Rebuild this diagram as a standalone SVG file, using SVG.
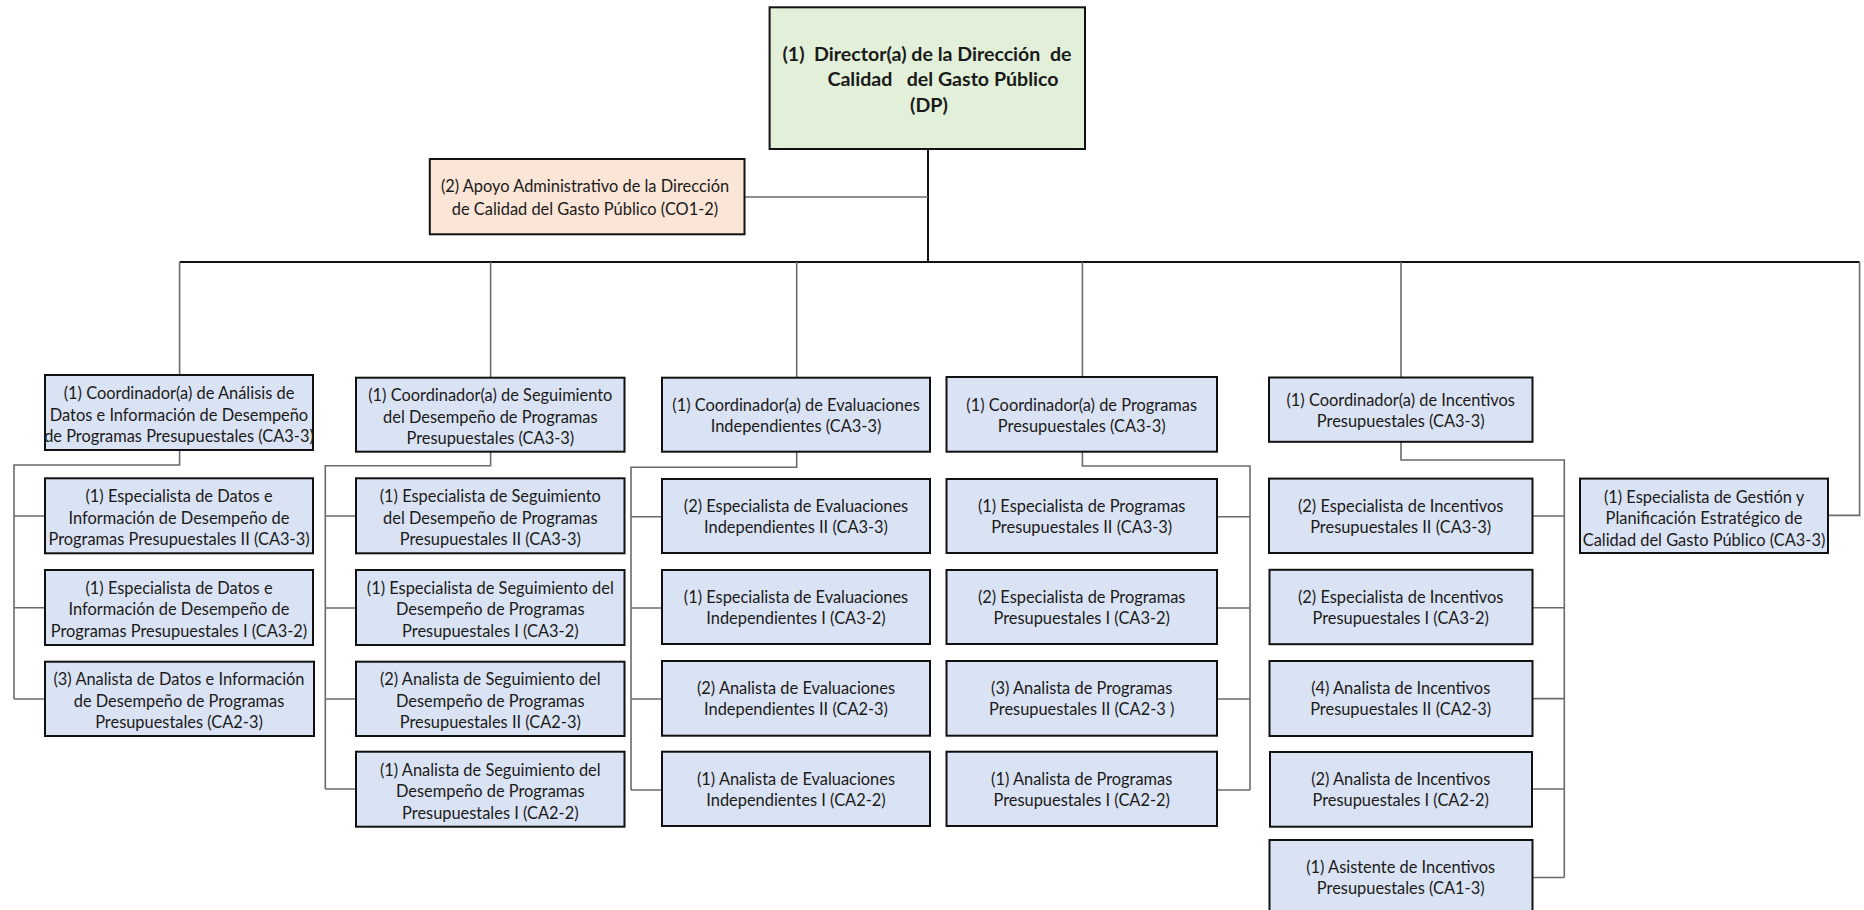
<svg xmlns="http://www.w3.org/2000/svg" width="1864" height="910" viewBox="0 0 1864 910">
<style>
.b{fill:#DAE3F3;stroke:#111;stroke-width:2}
.g{fill:#E2F0D9;stroke:#111;stroke-width:2}
.p{fill:#FBE5D6;stroke:#111;stroke-width:2}
text{font-family:Lato,"Open Sans","Liberation Sans",sans-serif;font-size:16.4px;fill:#1a1a1a;text-anchor:middle}
.hd{font-size:19.6px;font-weight:bold;white-space:pre}
.ln{fill:none;stroke:#6b6b6b;stroke-width:1.6}
.dk{fill:none;stroke:#111;stroke-width:2}
</style>
<rect width="1864" height="910" fill="#fff"/>
<g id="connectors">
<path class="dk" d="M928 149V262"/>
<path class="ln" d="M744.5 197H928"/>
<path class="dk" d="M179.6 262H1859.6"/>
<path class="ln" d="M179.6 262V375M490.6 262V378M796.7 262V378M1082.4 262V377M1401 262V377.5M1859.6 262V515.4H1828"/>
<path class="ln" d="M179.6 450V465H14V699M14 516H45M14 607.7H45M14 699H45"/>
<path class="ln" d="M490.6 452V465.7H325.3V789M325.3 516H356M325.3 608H356M325.3 699H356M325.3 789H356"/>
<path class="ln" d="M796.7 452V467.3H631V790M631 516.7H662M631 608H662M631 699H662M631 790H662"/>
<path class="ln" d="M1082.4 452V466H1250V790M1217 516.7H1250M1217 608H1250M1217 699H1250M1217 790H1250"/>
<path class="ln" d="M1401 442V460H1564.3V877.5M1532.5 516H1564.3M1532.5 607.7H1564.3M1532.5 698.6H1564.3M1532.5 789H1564.3M1532.5 877.5H1564.3"/>
</g>
<g id="director"><rect class="g" x="769.6" y="7.3" width="315.4" height="141.7"/>
<text class="hd" x="927" y="60.5" xml:space="preserve">(1)  Director(a) de la Dirección  de</text>
<text class="hd" x="943" y="86" xml:space="preserve">Calidad   del Gasto Público</text>
<text class="hd" x="929" y="111.5">(DP)</text></g>
<g id="apoyo"><rect class="p" x="429.8" y="159" width="314.7" height="75.3"/>
<text x="585" y="192">(2) Apoyo Administrativo de la Dirección</text>
<text x="585" y="215">de Calidad del Gasto Público (CO1-2)</text></g>

<g id="c1"><rect class="b" x="45" y="375" width="268" height="75"/>
<text x="179" y="399">(1) Coordinador(a) de Análisis de</text>
<text x="179" y="420.5">Datos e Información de Desempeño</text>
<text x="179" y="442">de Programas Presupuestales (CA3-3)</text></g>
<g id="c1a"><rect class="b" x="45" y="478.3" width="268" height="75"/>
<text x="179" y="502">(1) Especialista de Datos e</text>
<text x="179" y="523.5">Información de Desempeño de</text>
<text x="179" y="545">Programas Presupuestales II (CA3-3)</text></g>
<g id="c1b"><rect class="b" x="45" y="570" width="268" height="75"/>
<text x="179" y="593.7">(1) Especialista de Datos e</text>
<text x="179" y="615.2">Información de Desempeño de</text>
<text x="179" y="636.7">Programas Presupuestales I (CA3-2)</text></g>
<g id="c1c"><rect class="b" x="45" y="661.7" width="269" height="74.3"/>
<text x="179" y="685">(3) Analista de Datos e Información</text>
<text x="179" y="706.5">de Desempeño de Programas</text>
<text x="179" y="728">Presupuestales (CA2-3)</text></g>

<g id="c2"><rect class="b" x="356" y="377.7" width="268.5" height="74"/>
<text x="490.3" y="401">(1) Coordinador(a) de Seguimiento</text>
<text x="490.3" y="422.5">del Desempeño de Programas</text>
<text x="490.3" y="444">Presupuestales (CA3-3)</text></g>
<g id="c2a"><rect class="b" x="356" y="478.3" width="268.5" height="75"/>
<text x="490.3" y="502">(1) Especialista de Seguimiento</text>
<text x="490.3" y="523.5">del Desempeño de Programas</text>
<text x="490.3" y="545">Presupuestales II (CA3-3)</text></g>
<g id="c2b"><rect class="b" x="356" y="570" width="268.5" height="75"/>
<text x="490.3" y="593.7">(1) Especialista de Seguimiento del</text>
<text x="490.3" y="615.2">Desempeño de Programas</text>
<text x="490.3" y="636.7">Presupuestales I (CA3-2)</text></g>
<g id="c2c"><rect class="b" x="356" y="661.7" width="268.5" height="74.3"/>
<text x="490.3" y="685">(2) Analista de Seguimiento del</text>
<text x="490.3" y="706.5">Desempeño de Programas</text>
<text x="490.3" y="728">Presupuestales II (CA2-3)</text></g>
<g id="c2d"><rect class="b" x="356" y="751.7" width="268.5" height="75"/>
<text x="490.3" y="775.5">(1) Analista de Seguimiento del</text>
<text x="490.3" y="797">Desempeño de Programas</text>
<text x="490.3" y="818.5">Presupuestales I (CA2-2)</text></g>

<g id="c3"><rect class="b" x="662" y="377.7" width="268" height="74"/>
<text x="796" y="411">(1) Coordinador(a) de Evaluaciones</text>
<text x="796" y="432">Independientes (CA3-3)</text></g>
<g id="c3a"><rect class="b" x="662" y="479" width="268" height="74"/>
<text x="796" y="512">(2) Especialista de Evaluaciones</text>
<text x="796" y="533">Independientes II (CA3-3)</text></g>
<g id="c3b"><rect class="b" x="662" y="570" width="268" height="74"/>
<text x="796" y="603">(1) Especialista de Evaluaciones</text>
<text x="796" y="624">Independientes I (CA3-2)</text></g>
<g id="c3c"><rect class="b" x="662" y="661" width="268" height="74.7"/>
<text x="796" y="694.3">(2) Analista de Evaluaciones</text>
<text x="796" y="715.3">Independientes II (CA2-3)</text></g>
<g id="c3d"><rect class="b" x="662" y="751.7" width="268" height="74.3"/>
<text x="796" y="785">(1) Analista de Evaluaciones</text>
<text x="796" y="806">Independientes I (CA2-2)</text></g>

<g id="c4"><rect class="b" x="946.5" y="377" width="270.5" height="74.7"/>
<text x="1081.7" y="410.5">(1) Coordinador(a) de Programas</text>
<text x="1081.7" y="431.5">Presupuestales (CA3-3)</text></g>
<g id="c4a"><rect class="b" x="946.5" y="479" width="270.5" height="74"/>
<text x="1081.7" y="512">(1) Especialista de Programas</text>
<text x="1081.7" y="533">Presupuestales II (CA3-3)</text></g>
<g id="c4b"><rect class="b" x="946.5" y="570" width="270.5" height="74"/>
<text x="1081.7" y="603">(2) Especialista de Programas</text>
<text x="1081.7" y="624">Presupuestales I (CA3-2)</text></g>
<g id="c4c"><rect class="b" x="946.5" y="661" width="270.5" height="74.7"/>
<text x="1081.7" y="694.3">(3) Analista de Programas</text>
<text x="1081.7" y="715.3">Presupuestales II (CA2-3 )</text></g>
<g id="c4d"><rect class="b" x="946.5" y="751.7" width="270.5" height="74.3"/>
<text x="1081.7" y="785">(1) Analista de Programas</text>
<text x="1081.7" y="806">Presupuestales I (CA2-2)</text></g>

<g id="c5"><rect class="b" x="1269" y="377.5" width="263.5" height="64.3"/>
<text x="1400.7" y="405.5">(1) Coordinador(a) de Incentivos</text>
<text x="1400.7" y="426.5">Presupuestales (CA3-3)</text></g>
<g id="c5a"><rect class="b" x="1269" y="478.6" width="263.5" height="74.4"/>
<text x="1400.7" y="512">(2) Especialista de Incentivos</text>
<text x="1400.7" y="533">Presupuestales II (CA3-3)</text></g>
<g id="c5b"><rect class="b" x="1269.5" y="569.8" width="263" height="74.4"/>
<text x="1400.7" y="603">(2) Especialista de Incentivos</text>
<text x="1400.7" y="624">Presupuestales I (CA3-2)</text></g>
<g id="c5c"><rect class="b" x="1269.5" y="661" width="263" height="75"/>
<text x="1400.7" y="694.3">(4) Analista de Incentivos</text>
<text x="1400.7" y="715.3">Presupuestales II (CA2-3)</text></g>
<g id="c5d"><rect class="b" x="1270" y="752" width="262" height="74.7"/>
<text x="1400.7" y="785">(2) Analista de Incentivos</text>
<text x="1400.7" y="806">Presupuestales I (CA2-2)</text></g>
<g id="c5e"><rect class="b" x="1269.5" y="840" width="263" height="76"/>
<text x="1400.7" y="872.5">(1) Asistente de Incentivos</text>
<text x="1400.7" y="894">Presupuestales (CA1-3)</text></g>

<g id="gestion"><rect class="b" x="1580" y="478.6" width="248" height="74.4"/>
<text x="1704" y="502.5">(1) Especialista de Gestión y</text>
<text x="1704" y="524">Planificación Estratégico de</text>
<text x="1704" y="545.5">Calidad del Gasto Público (CA3-3)</text></g>
</svg>
